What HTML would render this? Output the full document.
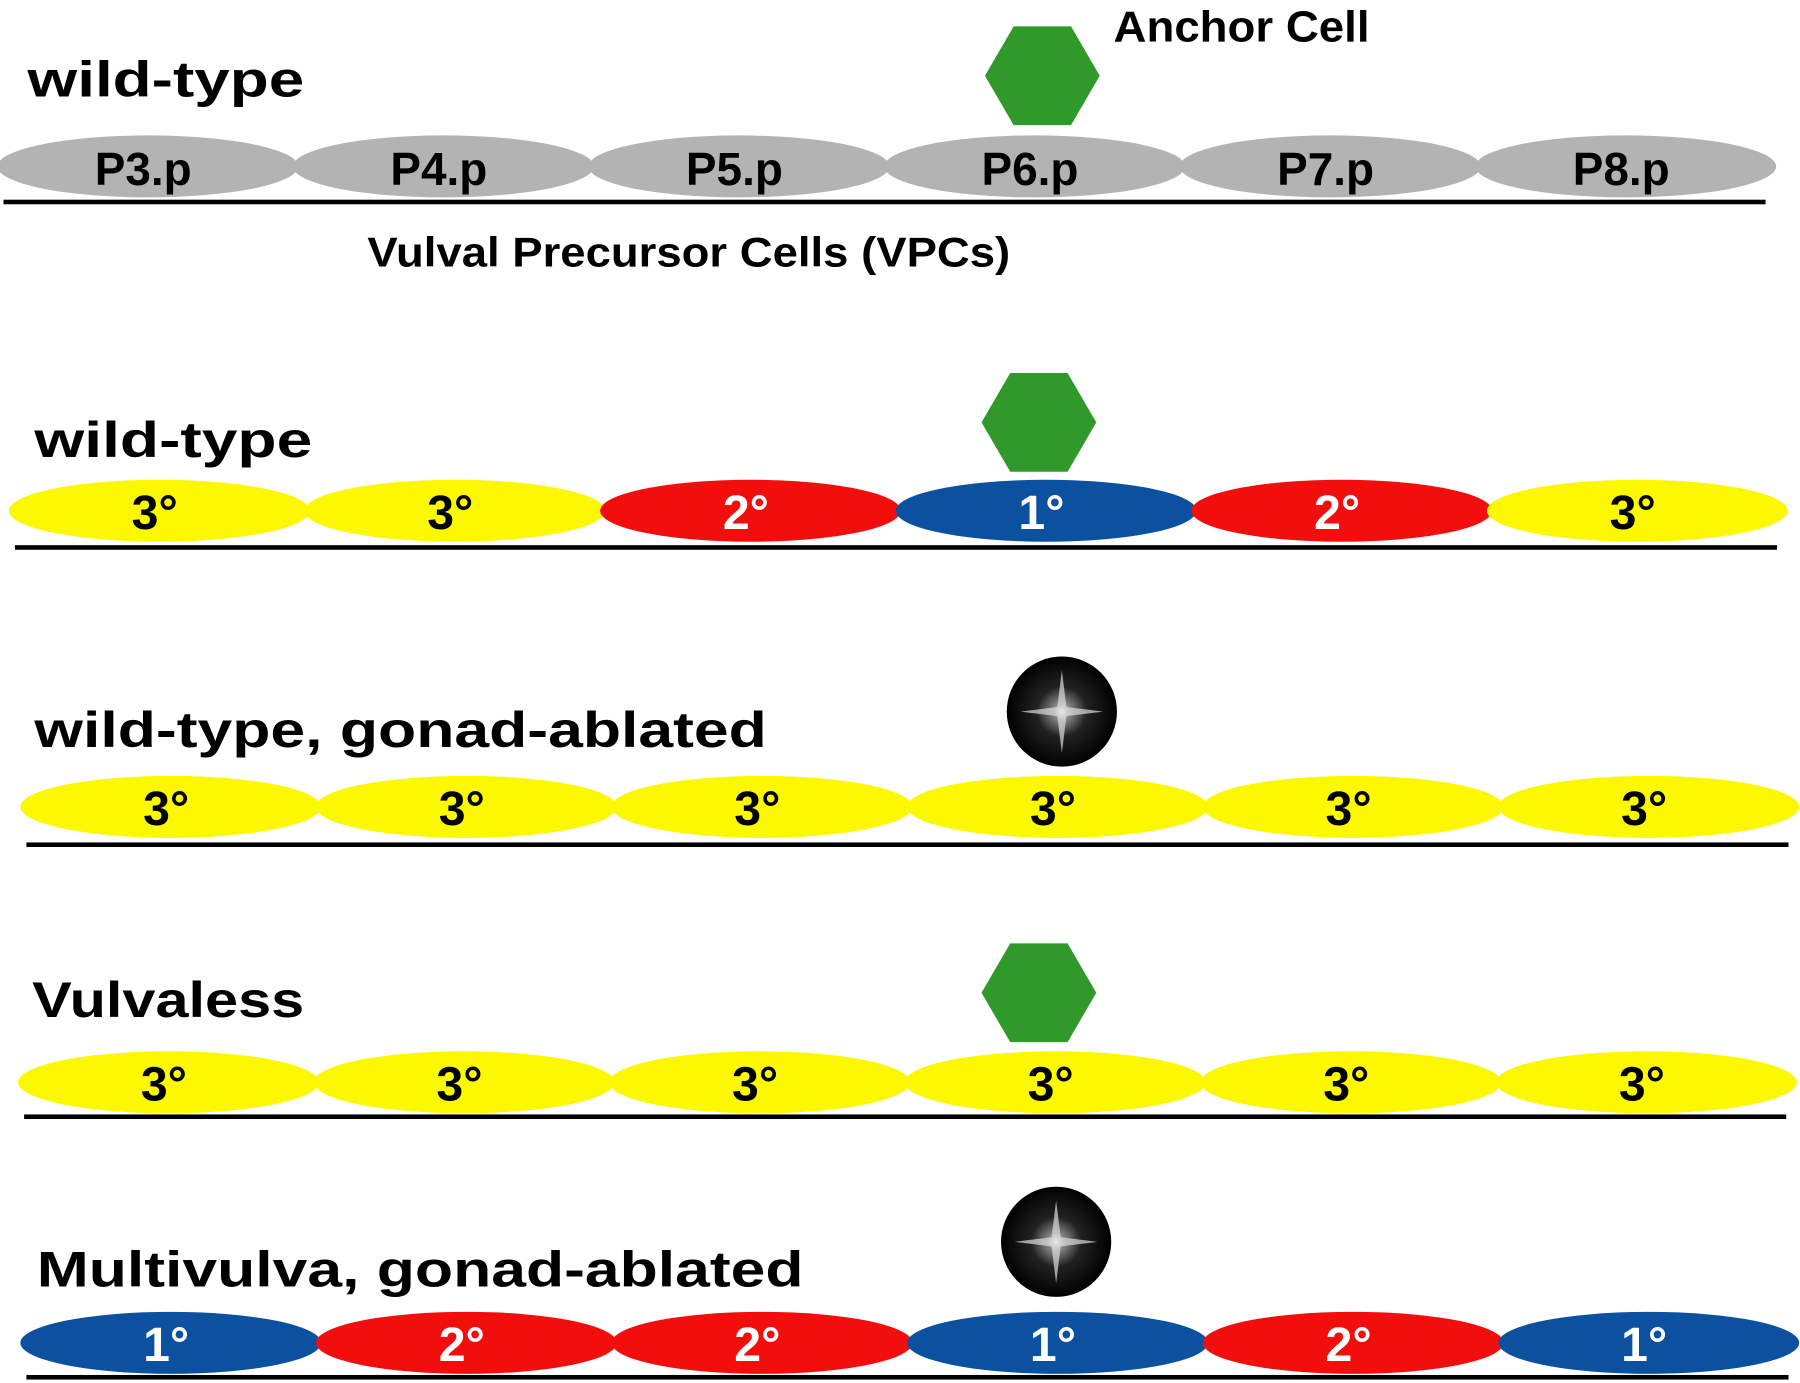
<!DOCTYPE html>
<html><head><meta charset="utf-8"><style>
html,body{margin:0;padding:0;background:#fff;}
svg{display:block;}
text{font-family:"Liberation Sans",sans-serif;font-weight:bold;}
</style></head><body>
<svg id="fig" width="1800" height="1383" viewBox="0 0 1568 1205" preserveAspectRatio="none" xmlns="http://www.w3.org/2000/svg">
<defs>
<radialGradient id="ablg" cx="50%" cy="50%" r="50%">
<stop offset="0" stop-color="#fff"/><stop offset="0.15" stop-color="#888"/><stop offset="0.45" stop-color="#222"/><stop offset="1" stop-color="#000"/>
</radialGradient>
</defs>
<text x="24" y="84" font-size="44" textLength="241" lengthAdjust="spacingAndGlyphs">wild-type</text>
<text x="970" y="36" font-size="38" textLength="223" lengthAdjust="spacingAndGlyphs">Anchor Cell</text>
<text x="320" y="232" font-size="36" textLength="560" lengthAdjust="spacingAndGlyphs">Vulval Precursor Cells (VPCs)</text>
<text x="30" y="398" font-size="44" textLength="242" lengthAdjust="spacingAndGlyphs">wild-type</text>
<text x="30" y="651" font-size="44" textLength="638" lengthAdjust="spacingAndGlyphs">wild-type, gonad-ablated</text>
<text x="28" y="886" font-size="44" textLength="237" lengthAdjust="spacingAndGlyphs">Vulvaless</text>
<text x="32" y="1121" font-size="44" textLength="668" lengthAdjust="spacingAndGlyphs">Multivulva, gonad-ablated</text>
<g id="rows"></g>
</svg>
<script>
const rowY = [145, 445, 703, 943, 1170];
const rowX0 = [0, 10, 20, 18, 20];
const lineY = [176, 477, 736, 973, 1200];
const rowFates = [
  ["P3.p","P4.p","P5.p","P6.p","P7.p","P8.p"],
  ["3°","3°","2°","1°","2°","3°"],
  ["3°","3°","3°","3°","3°","3°"],
  ["3°","3°","3°","3°","3°","3°"],
  ["1°","2°","2°","1°","2°","1°"]
];
const markerType = ["ac","ac","ablated","ac","ablated"];
const markerY = [66, 368, 620, 865, 1082];
const fill = {"1°":"#0c50a0","2°":"#f30e0e","3°":"#fbf800"};
const ns = "http://www.w3.org/2000/svg";
const g = document.getElementById("rows");
function mk(tag, attrs){const e=document.createElementNS(ns,tag);for(const k in attrs)e.setAttribute(k,attrs[k]);return e;}
const W = 257.5;
rowY.forEach((cy, r) => {
  const x0 = rowX0[r];
  rowFates[r].forEach((f, i) => {
    const cx = x0 + W/2 + i*W;
    const e = mk("ellipse",{cx:cx,cy:cy,rx:131,ry:27,fill: r===0?"#b3b3b3":fill[f]});
    
    
    g.appendChild(e);
  });
  rowFates[r].forEach((f, i) => {
    const cx = x0 + W/2 + i*W;
    const t = mk("text",{x:cx-4,y:cy+16,"font-size":r===0?40:42,"text-anchor":"middle",fill:(r===0||f==="3°")?"#000":"#fff"});
    t.textContent = f;
    
    
    g.appendChild(t);
  });
  const ln = mk("rect",{x:x0+3,y:lineY[r]-2,width:1535,height:4,fill:"#000"});
  
  
  g.appendChild(ln);
  const my = markerY[r];
  if (markerType[r]==="ac") {
    const mx = r===0?908:905;
    const pts=[[mx-50,my],[mx-25,my-43],[mx+25,my-43],[mx+50,my],[mx+25,my+43],[mx-25,my+43]].map(p=>p.join(",")).join(" ");
    const h = mk("polygon",{points:pts,fill:"#2f9a2a"});
    
    
    g.appendChild(h);
  } else {
    const mx = r===2?925:920;
    const c = mk("circle",{cx:mx,cy:my,r:48,fill:"url(#ablg)"});
    
    
    g.appendChild(c);
    const s=[[mx,my-36],[mx+4,my-4],[mx+36,my],[mx+4,my+4],[mx,my+36],[mx-4,my+4],[mx-36,my],[mx-4,my-4]].map(p=>p.join(",")).join(" ");
    const st = mk("polygon",{points:s,fill:"#ddd",opacity:"0.7"});
    
    
    g.appendChild(st);
  }
});
</script>
</body></html>
